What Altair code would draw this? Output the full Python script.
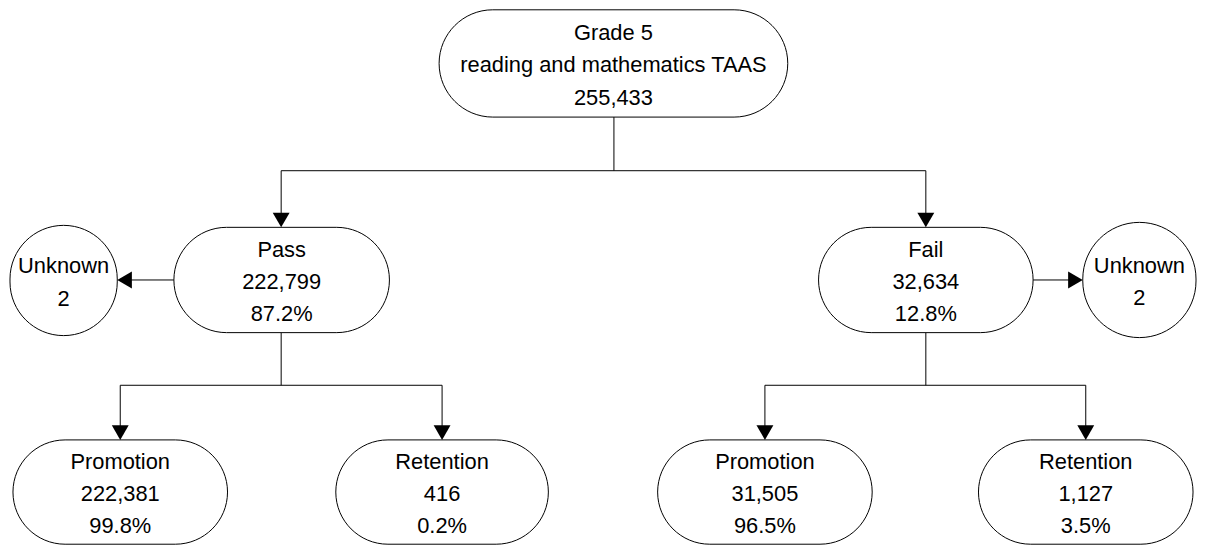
import altair as alt
import pandas as pd

# ---------------- data ----------------
node_titles = ["Grade 5\nreading and mathematics TAAS", "Pass", "Fail", "Unknown", "Unknown",
               "Promotion", "Retention", "Promotion", "Retention"]
node_counts = [255433, 222799, 32634, 2, 2, 222381, 416, 31505, 1127]
node_pcts = [None, 87.2, 12.8, None, None, 99.8, 0.2, 96.5, 3.5]

# ---------------- layout (page pixels) ----------------
node_x0 = [442, 175, 824, 10, 1090, 13, 338, 662, 985]
node_x1 = [793, 392, 1040, 118, 1204, 229, 552, 878, 1201]
node_y0 = [8, 227, 227, 225, 222, 441, 441, 441, 441]
node_y1 = [116, 333, 333, 336, 338, 546, 546, 546, 546]

seg_x = [618, 283, 283, 932, 175, 1040, 283, 121, 121, 445, 932, 770, 770, 1093]
seg_y = [116, 170, 170, 170, 280, 280, 333, 386, 386, 386, 333, 386, 386, 386]
seg_x2 = [618, 932, 283, 932, 125, 1083, 283, 445, 121, 445, 932, 1093, 770, 1093]
seg_y2 = [170, 170, 220, 220, 280, 280, 386, 386, 434, 434, 386, 386, 434, 434]

tip_x = [283, 932, 118, 1090, 121, 445, 770, 1093]
tip_y = [227, 227, 280, 280, 441, 441, 441, 441]
tip_dir = ["down", "down", "left", "right", "down", "down", "down", "down"]

ARROW_SIZE = 289
FONT = "Liberation Sans, Arial, sans-serif"
FONT_SIZE = 22
LINE_H = 32.5

# ---------------- frames ----------------
labels = []
for t, c, p in zip(node_titles, node_counts, node_pcts):
    s = f"{t}\n{c:,}"
    if p is not None:
        s += f"\n{p:.1f}%"
    labels.append(s)

nodes = pd.DataFrame({"label": labels, "x0": node_x0, "x1": node_x1,
                      "y0": node_y0, "y1": node_y1})
nodes["cx"] = (nodes.x0 + nodes.x1) / 2
nodes["cy"] = (nodes.y0 + nodes.y1) / 2
nodes["nl"] = nodes.label.str.count("\n") + 1
nodes["ty"] = nodes.cy - (nodes.nl - 1) / 2 * LINE_H

segs = pd.DataFrame({"x": seg_x, "y": seg_y, "x2": seg_x2, "y2": seg_y2})

h = (ARROW_SIZE ** 0.5) / 2 * (3 ** 0.5) / 2
shape_of = {"down": "triangle-down", "left": "triangle-left", "right": "triangle-right"}
dx_of = {"down": 0, "left": h, "right": -h}
dy_of = {"down": -h, "left": 0, "right": 0}
tips = pd.DataFrame({
    "x": [x + dx_of[d] for x, d in zip(tip_x, tip_dir)],
    "y": [y + dy_of[d] for y, d in zip(tip_y, tip_dir)],
    "shape": [shape_of[d] for d in tip_dir],
})

W, H = 1198, 539
xs = alt.Scale(domain=[8, 8 + W], nice=False, zero=False)
ys = alt.Scale(domain=[8, 8 + H], nice=False, zero=False, reverse=True)

lines = alt.Chart(segs).mark_rule(color="black", strokeWidth=1).encode(
    x=alt.X("x:Q", scale=xs, axis=None),
    y=alt.Y("y:Q", scale=ys, axis=None),
    x2="x2:Q", y2="y2:Q",
)

boxes = alt.Chart(nodes).mark_rect(
    fill="white", stroke="black", strokeWidth=1, cornerRadius=80
).encode(
    x=alt.X("x0:Q", scale=xs, axis=None),
    x2="x1:Q",
    y=alt.Y("y0:Q", scale=ys, axis=None),
    y2="y1:Q",
)

heads = alt.Chart(tips).mark_point(
    filled=True, color="black", size=ARROW_SIZE, opacity=1, strokeWidth=0
).encode(
    x=alt.X("x:Q", scale=xs, axis=None),
    y=alt.Y("y:Q", scale=ys, axis=None),
    shape=alt.Shape("shape:N", scale=None),
)

texts = alt.Chart(nodes).mark_text(
    font=FONT, fontSize=FONT_SIZE, lineBreak="\n", lineHeight=LINE_H,
    align="center", baseline="middle", dy=2, color="black"
).encode(
    x=alt.X("cx:Q", scale=xs, axis=None),
    y=alt.Y("ty:Q", scale=ys, axis=None),
    text="label:N",
)

chart = alt.layer(lines, boxes, heads, texts).properties(
    width=W, height=H, padding=0, autosize="none"
).configure_view(stroke=None)

chart.save("out.html", embed_options={"renderer": "svg", "actions": False})
